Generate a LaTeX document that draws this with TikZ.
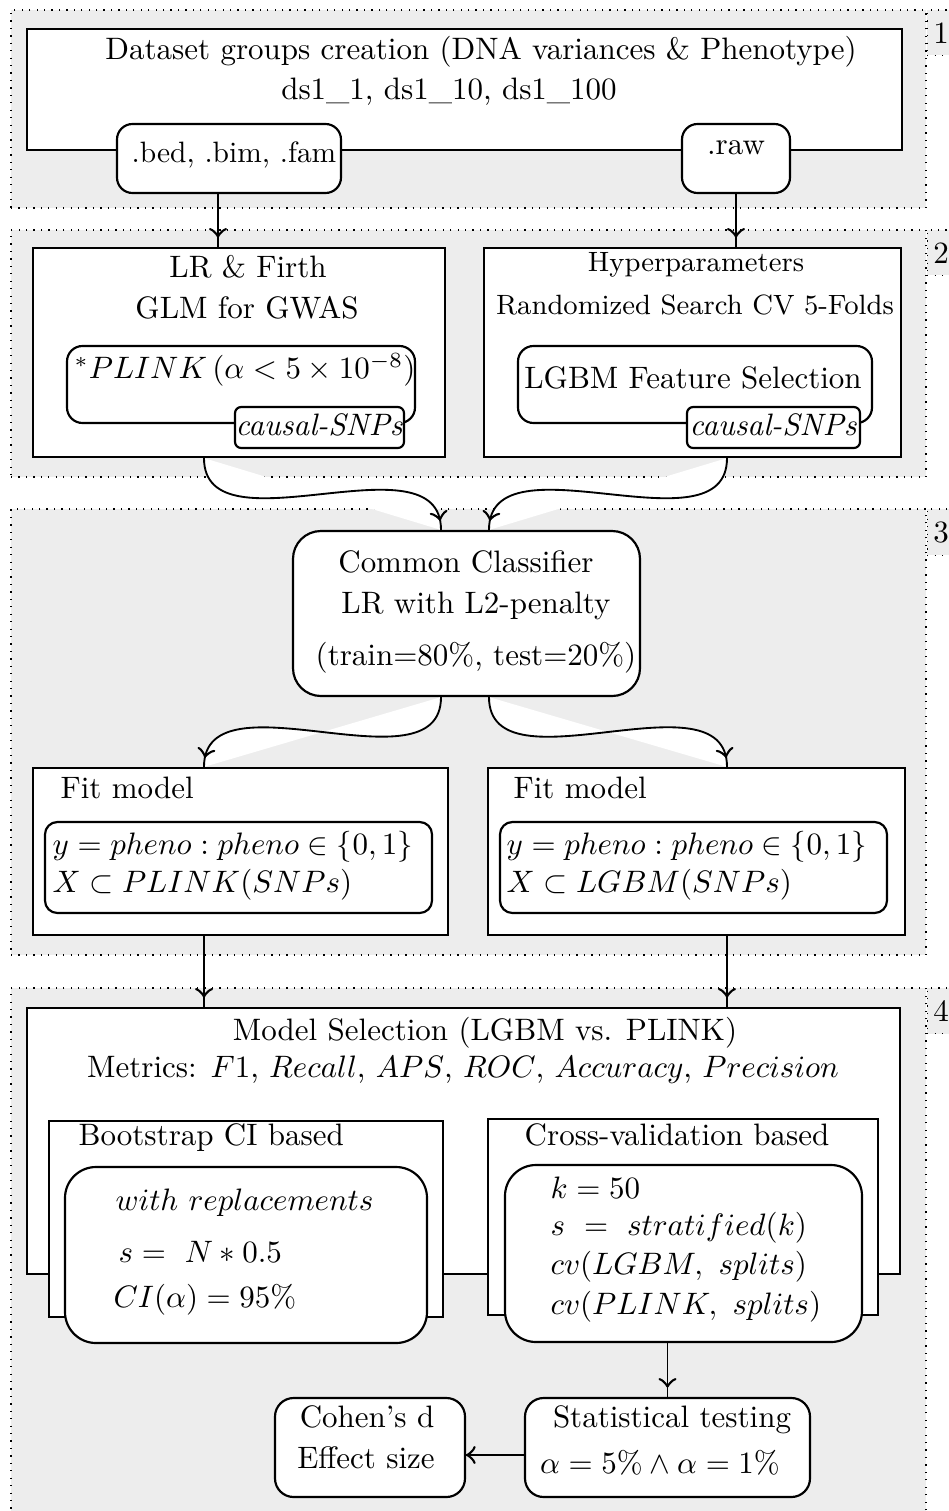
\documentclass[tikz,border=0pt]{standalone}
\usetikzlibrary{fit,decorations.markings}
\tikzset{
  grp/.style={draw,dotted,fill=black!7,inner sep=0pt},
  tag/.style={draw,dotted,fill=black!7,anchor=north west,inner xsep=2pt,inner ysep=4pt},
  box/.style={draw,line width=0.7pt,fill=white,inner sep=0pt},
  rbox/.style={box,rounded corners=#1},
  rbox/.default=5pt,
  txt/.style={inner sep=0pt},
  flow/.style={semithick,postaction={decorate},
    decoration={markings,mark=at position #1 with {\arrow[scale=1.4]{>}}}},
  flow/.default=-3pt,
  sflow/.style={flow,preaction={fill=white}},
}
\begin{document}
\begin{tikzpicture}[x=0.3226pt,y=-0.3226pt]
\useasboundingbox (0,0) rectangle (949,1511);
% dotted stages
\path
node[grp,fit={(11,10) (926,208)}] (g1) {}
node[grp,fit={(11,230) (926,477)}] (g2) {}
node[grp,fit={(11,509) (926,955)}] (g3) {}
node[grp,fit={(11,988) (926,1540)}] (g4) {};
\path
(g1.north east) node[tag] (t1) {1}
(g2.north east) node[tag] (t2) {2}
(g3.north east) node[tag] (t3) {3}
(g4.north east) node[tag] (t4) {4};
% stage 1
\path
node[box,fit={(27,29) (902,150)}] (ds) {}
node[rbox,fit={(117,124) (341,193)}] (bed) {}
node[rbox,fit={(682,124) (790,193)}] (raw) {}
(481,52) node[txt] (dst) {Dataset groups creation (DNA variances \& Phenotype)}
(449,92) node[txt] (dsn) {ds1\_1, ds1\_10, ds1\_100}
(234,155) node[txt] (bedt) {\fontsize{9.5pt}{11pt}\selectfont .bed, .bim, .fam}
(736,148) node[txt] (rawt) {.raw};
% stage 2
\path
node[box,fit={(33,248) (445,457)}] (lr) {}
node[rbox,fit={(67,346) (415,423)}] (plink) {}
node[rbox=2pt,fit={(235,407) (404,448)}] (snp1) {}
node[box,fit={(484,248) (901,457)}] (hyp) {}
node[rbox,fit={(518,346) (872,423)}] (lgbm) {}
node[rbox=2pt,fit={(687,407) (860,448)}] (snp2) {}
(248,267) node[txt] (lrt) {LR \& Firth}
(247,308) node[txt] (glmt) {GLM for GWAS}
(245,370) node[txt] (plinkt) {$^{*}PLINK\,(\alpha<5\times10^{-8})$}
(319,425) node[txt] (snp1t) {\itshape causal-SNPs}
(696,265) node[txt] (hypt) {\small Hyperparameters}
(695,305) node[txt] (rst) {\small Randomized Search CV 5-Folds}
(693,378) node[txt] (lgbmt) {LGBM Feature Selection}
(773,425) node[txt] (snp2t) {\itshape causal-SNPs};
% stage 3
\path
node[rbox=9pt,fit={(293,531) (640,696)}] (cc) {}
node[box,fit={(33,768) (448,935)}] (fitl) {}
node[rbox=4pt,fit={(45,822) (432,913)}] (fitli) {}
node[box,fit={(488,768) (905,935)}] (fitr) {}
node[rbox=4pt,fit={(500,822) (887,913)}] (fitri) {}
(466,562) node[txt] (cct) {Common Classifier}
(476,606) node[txt] (lrt2) {LR with L2-penalty}
(476,658) node[txt] (splt) {(train=80\%, test=20\%)}
(60,788) node[txt,anchor=west] (fitlt) {Fit model}
(52,847) node[txt,anchor=west] (yl) {$y = pheno : pheno \in \{0,1\}$}
(52,885) node[txt,anchor=west] (xl) {$X \subset PLINK(SNPs)$}
(513,788) node[txt,anchor=west] (fitrt) {Fit model}
(506,847) node[txt,anchor=west] (yr) {$y = pheno : pheno \in \{0,1\}$}
(506,885) node[txt,anchor=west] (xr) {$X \subset LGBM(SNPs)$};
% stage 4
\path
node[box,fit={(27,1008) (900,1274)}] (msel) {}
node[box,fit={(49,1121) (443,1317)}] (boot) {}
node[rbox=10pt,fit={(65,1167) (427,1343)}] (booti) {}
node[box,fit={(488,1119) (878,1315)}] (cv) {}
node[rbox=10pt,fit={(505,1165) (862,1342)}] (cvi) {}
node[rbox=6pt,fit={(525,1398) (810,1497)}] (stat) {}
node[rbox=6pt,fit={(275,1398) (465,1497)}] (cohen) {}
(485,1033) node[txt] (mselt) {Model Selection (LGBM vs. PLINK)}
(463,1070) node[txt] (mett) {Metrics: $F1$, $Recall$, $APS$, $ROC$, $Accuracy$, $Precision$}
(78,1138) node[txt,anchor=west] (boott) {Bootstrap CI based}
(115,1203) node[txt,anchor=west] (b1) {$with\ replacements$}
(118,1252) node[txt,anchor=west] (b2) {$s =\ N*0.5$}
(113,1300) node[txt,anchor=west] (b3) {$CI(\alpha) = 95\%$}
(677,1135) node[txt] (cvt) {Cross-validation based}
(550,1188) node[txt,anchor=west] (c1) {$k = 50$}
(550,1228) node[txt,anchor=west] (c2) {$s\ =\ stratified(k)$}
(550,1267) node[txt,anchor=west] (c3) {$cv(LGBM,\ splits)$}
(550,1307) node[txt,anchor=west] (c4) {$cv(PLINK,\ splits)$}
(672,1420) node[txt] (statt) {Statistical testing}
(660,1463) node[txt] (alpt) {$\alpha = 5\% \land \alpha = 1\%$}
(367,1417) node[txt] (cohent) {Cohen's d}
(366,1458) node[txt] (efft) {Effect size};
% connectors
\coordinate (cb) at (218,0);
\coordinate (cl) at (204,0);
\coordinate (cr) at (727,0);
\coordinate (ml) at (441,0);
\coordinate (mr) at (489,0);
\coordinate (ay) at (0,1455);
\draw[flow] (bed.south -| cb) -- (lr.north -| cb);
\draw[flow] (raw.south) -- (raw.south |- hyp.north);
\draw[sflow] (lr.south -| cl) to[out=-90,in=90] (cc.north -| ml);
\draw[sflow] (hyp.south -| cr) to[out=-90,in=90] (cc.north -| mr);
\draw[sflow] (cc.south -| ml) to[out=-90,in=90] (fitl.north -| cl);
\draw[sflow] (cc.south -| mr) to[out=-90,in=90] (fitr.north -| cr);
\draw[flow] (fitl.south -| cl) -- (msel.north -| cl);
\draw[flow] (fitr.south -| cr) -- (msel.north -| cr);
\draw[flow] (cvi.south -| stat.north) -- (stat.north);
\draw[flow=1] (stat.west |- ay) -- (cohen.east |- ay);
\end{tikzpicture}
\end{document}
